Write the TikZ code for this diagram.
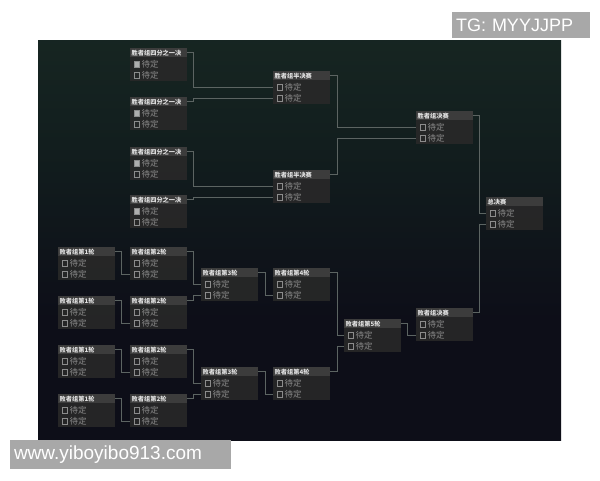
\documentclass[tikz,border=0pt]{standalone}
\usepackage{fontspec}
\setsansfont{Liberation Sans}
\newfontfamily\cjk{Noto Sans CJK SC}
\usetikzlibrary{positioning}

\definecolor{bgtop}{RGB}{12,18,17}
\definecolor{bgmid}{RGB}{24,40,35}
\definecolor{bgmidb}{RGB}{18,30,30}
\definecolor{bgbot}{RGB}{13,14,24}
\definecolor{headgray}{RGB}{60,60,60}
\definecolor{bodygray}{RGB}{40,40,40}
\definecolor{rowtext}{RGB}{140,140,140}
\definecolor{headtext}{RGB}{225,225,225}
\definecolor{linkgray}{RGB}{92,100,98}
\definecolor{wmgray}{RGB}{168,168,168}

\pgfdeclareverticalshading{bracketbg}{100bp}{color(0bp)=(bgbot); color(40bp)=(bgbot); color(62bp)=(bgmidb); color(80bp)=(bgmid); color(92bp)=(bgmid); color(100bp)=(bgtop)}

% one match: name, x, y, title, style of the first check box
\newcommand{\matchbox}[5]{%
  \node[matchbody] (#1) at (#2,#3) {};
  \node[matchhead] (#1-t) at (#1.north west) {#4};
  \node[chk,#5] (#1-c1) at ([xshift=6.5pt,yshift=-16pt]#1.north west) {};
  \node[chk] (#1-c2) at ([xshift=6.5pt,yshift=-27pt]#1.north west) {};
  \node[rowtxt] (#1-r1) [right=2.5pt of #1-c1] {待定};
  \node[rowtxt] (#1-r2) [right=2.5pt of #1-c2] {待定};
  \coordinate (#1-a) at ([yshift=-16pt]#1.north west);
  \coordinate (#1-b) at ([yshift=-27pt]#1.north west);
  \coordinate (#1-o) at ([yshift=-4.5pt]#1.north east);
}

\begin{document}
\begin{tikzpicture}[x=1pt, y=-1pt,
  matchbody/.style={anchor=north west, fill=bodygray, fill opacity=0.92, minimum width=57pt, minimum height=33pt, inner sep=0pt},
  matchhead/.style={anchor=north west, fill=headgray, text=headtext, minimum height=9pt, text width=54pt, inner xsep=1.5pt, inner ysep=0pt, align=left, font=\cjk\bfseries\fontsize{6.2}{7}\selectfont},
  chk/.style={draw=rowtext, line width=0.5pt, minimum width=4.5pt, minimum height=6.5pt, inner sep=0pt},
  flag/.style={fill=rowtext!70!white},
  rowtxt/.style={anchor=west, text=rowtext, inner sep=0pt, font=\cjk\fontsize{8.5}{9}\selectfont},
  link/.style={draw=linkgray, line width=0.6pt},
  wm/.style={fill=wmgray, text=white, inner xsep=4pt, inner ysep=0pt, align=left, font=\sffamily\fontsize{18}{20}\selectfont}]

  \fill[white] (0,0) rectangle (600,480);
  \useasboundingbox (0,0) rectangle (600,480);
  \shade[shading=bracketbg] (38,40) rectangle (561,440);

  % winners bracket
  \matchbox{q1}{130}{48}{胜者组四分之一决}{flag}
  \matchbox{q2}{130}{97}{胜者组四分之一决}{flag}
  \matchbox{q3}{130}{147}{胜者组四分之一决}{flag}
  \matchbox{q4}{130}{195}{胜者组四分之一决}{flag}
  \matchbox{s1}{273}{71}{胜者组半决赛}{}
  \matchbox{s2}{273}{170}{胜者组半决赛}{}
  \matchbox{wf}{416}{111}{胜者组决赛}{}
  \matchbox{gf}{486}{197}{总决赛}{}

  % losers bracket
  \matchbox{l1a}{58}{247}{败者组第1轮}{}
  \matchbox{l1b}{58}{296}{败者组第1轮}{}
  \matchbox{l1c}{58}{345}{败者组第1轮}{}
  \matchbox{l1d}{58}{394}{败者组第1轮}{}
  \matchbox{l2a}{130}{247}{败者组第2轮}{}
  \matchbox{l2b}{130}{296}{败者组第2轮}{}
  \matchbox{l2c}{130}{345}{败者组第2轮}{}
  \matchbox{l2d}{130}{394}{败者组第2轮}{}
  \matchbox{l3a}{201}{268}{败者组第3轮}{}
  \matchbox{l3b}{201}{367}{败者组第3轮}{}
  \matchbox{l4a}{273}{268}{败者组第4轮}{}
  \matchbox{l4b}{273}{367}{败者组第4轮}{}
  \matchbox{l5}{344}{319}{败者组第5轮}{}
  \matchbox{lf}{416}{308}{败者组决赛}{}

  \draw[link] (q1-o) -- ++(6,0) |- (s1-a);
  \draw[link] (q2-o) -- ++(6,0) |- (s1-b);
  \draw[link] (q3-o) -- ++(6,0) |- (s2-a);
  \draw[link] (q4-o) -- ++(6,0) |- (s2-b);
  \draw[link] (s1-o) -- ++(7,0) |- (wf-a);
  \draw[link] (s2-o) -- ++(7,0) |- (wf-b);
  \draw[link] (wf-o) -- ++(6,0) |- (gf-a);
  \draw[link] (lf-o) -- ++(6,0) |- (gf-b);

  \draw[link] (l1a-o) -- ++(6,0) |- (l2a-b);
  \draw[link] (l1b-o) -- ++(6,0) |- (l2b-b);
  \draw[link] (l1c-o) -- ++(6,0) |- (l2c-b);
  \draw[link] (l1d-o) -- ++(6,0) |- (l2d-b);
  \draw[link] (l2a-o) -- ++(6,0) |- (l3a-a);
  \draw[link] (l2b-o) -- ++(6,0) |- (l3a-b);
  \draw[link] (l2c-o) -- ++(6,0) |- (l3b-a);
  \draw[link] (l2d-o) -- ++(6,0) |- (l3b-b);
  \draw[link] (l3a-o) -- ++(7,0) |- (l4a-b);
  \draw[link] (l3b-o) -- ++(7,0) |- (l4b-b);
  \draw[link] (l4a-o) -- ++(7,0) |- (l5-a);
  \draw[link] (l4b-o) -- ++(7,0) |- (l5-b);
  \draw[link] (l5-o) -- ++(6,0) |- (lf-b);

  % watermarks
  \node[wm, minimum width=138pt, minimum height=26pt, text width=130pt] (tg) at (521,25) {TG: MYYJJPP};
  \node[wm, minimum width=221pt, minimum height=29pt, text width=213pt, font=\sffamily\fontsize{19}{21}\selectfont] (site) at (120.5,454.5) {www.yiboyibo913.com};
\end{tikzpicture}
\end{document}
